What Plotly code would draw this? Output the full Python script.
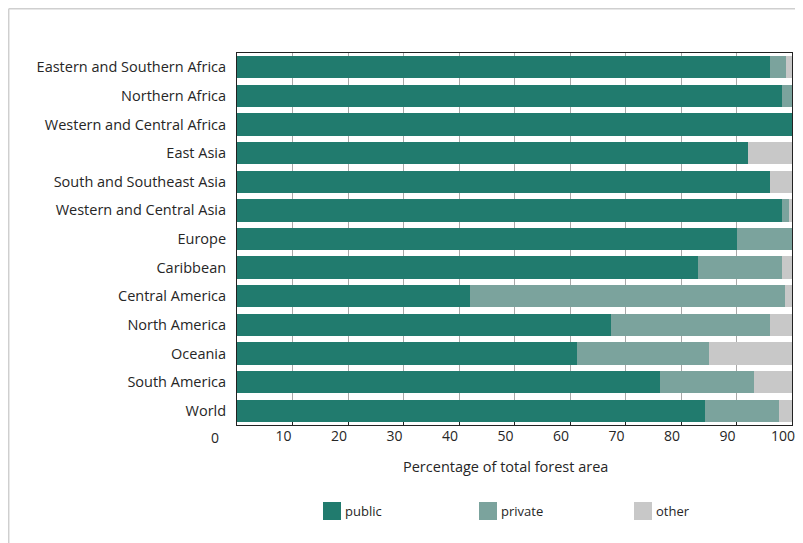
import plotly.graph_objects as go

regions = [
    "Eastern and Southern Africa",
    "Northern Africa",
    "Western and Central Africa",
    "East Asia",
    "South and Southeast Asia",
    "Western and Central Asia",
    "Europe",
    "Caribbean",
    "Central America",
    "North America",
    "Oceania",
    "South America",
    "World",
]

public = [96.1, 98.2, 100.0, 92.1, 96.1, 98.2, 90.0, 83.1, 42.0, 67.3, 61.2, 76.2, 84.3]
private = [2.9, 1.8, 0.0, 0.0, 0.0, 1.3, 10.0, 15.1, 56.7, 28.8, 23.9, 17.0, 13.3]
other = [1.0, 0.0, 0.0, 7.9, 3.9, 0.5, 0.0, 1.8, 1.3, 3.9, 14.9, 6.8, 2.4]

series_names = ["public", "private", "other"]
series_colors = ["#217B6E", "#7BA39D", "#C8C8C8"]

tick_vals = [10, 20, 30, 40, 50, 60, 70, 80, 90, 100]
tick_text = ["10", "20", "30", "40", "50", "60", "70", "80", "90", "100"]
x_title = "Percentage of total forest area"

FONT = "Open Sans, Noto Sans, sans-serif"
TXT = "#262626"

fig = go.Figure()
for name, vals, col in zip(series_names, [public, private, other], series_colors):
    fig.add_trace(go.Bar(
        y=regions, x=vals, name=name, orientation="h",
        marker=dict(color=col, line=dict(width=0)),
        showlegend=False,
    ))

# page body has an 8px margin: figure origin sits at screen (8, 8)
OFF = 8
W, H = 803 - OFF, 543 - OFF
L, R, T, B = 237 - OFF, 11, 53 - OFF, 118
pw, ph = W - L - R, H - T - B

fig.update_layout(
    width=W, height=H,
    margin=dict(l=L, r=R, t=T, b=B, autoexpand=False),
    barmode="stack",
    bargap=0.22,
    paper_bgcolor="white",
    plot_bgcolor="white",
    font=dict(family=FONT, size=14, color=TXT),
)

fig.update_xaxes(
    range=[0, 100],
    tickvals=tick_vals, ticktext=tick_text,
    ticklabelshift=-9,
    ticklabelstandoff=-2,
    showgrid=True, gridcolor="#a8a8a8", gridwidth=1,
    showline=True, linecolor="#222", linewidth=1, mirror=True,
    ticks="inside", ticklen=3, tickcolor="#222",
    tickfont=dict(size=14, color=TXT),
    zeroline=False,
)
fig.update_yaxes(
    categoryorder="array", categoryarray=regions[::-1],
    showgrid=False,
    showline=True, linecolor="#222", linewidth=1, mirror=True,
    ticks="", ticklabelstandoff=7,
    tickfont=dict(size=14.5, color=TXT),
)


def px_x(p):
    return (p - OFF - L) / pw


def px_y(p):
    return 1 - (p - OFF - T) / ph


# "0" label at the origin
fig.add_annotation(
    x=0, xref="x", y=0, yref="paper", text="0", showarrow=False,
    xanchor="center", yanchor="middle",
    xshift=-22, yshift=-12, font=dict(size=14, color=TXT),
)

# x-axis title
fig.add_annotation(
    x=0.5, xref="paper", y=px_y(467), yref="paper", text=x_title,
    showarrow=False, xanchor="center", yanchor="middle", xshift=-9,
    font=dict(size=14.5, color=TXT),
)

# outer frame (top and left lines)
fig.add_shape(type="line", xref="paper", yref="paper",
              x0=px_x(8.7), x1=px_x(803), y0=px_y(8.7), y1=px_y(8.7),
              line=dict(color="#cfcfcf", width=1.5))
fig.add_shape(type="line", xref="paper", yref="paper",
              x0=px_x(8.7), x1=px_x(8.7), y0=px_y(8.7), y1=px_y(543),
              line=dict(color="#cfcfcf", width=1.5))

# manual legend
legend_x = [323, 479, 634]
for name, col, lx in zip(series_names, series_colors, legend_x):
    fig.add_shape(type="rect", xref="paper", yref="paper",
                  x0=px_x(lx), x1=px_x(lx + 18), y0=px_y(502), y1=px_y(520),
                  fillcolor=col, line=dict(width=0))
    fig.add_annotation(xref="paper", yref="paper", x=px_x(lx + 20), y=px_y(511),
                       text=name, showarrow=False, xanchor="left", yanchor="middle",
                       font=dict(size=13, color=TXT))

fig.write_html("out.html")
